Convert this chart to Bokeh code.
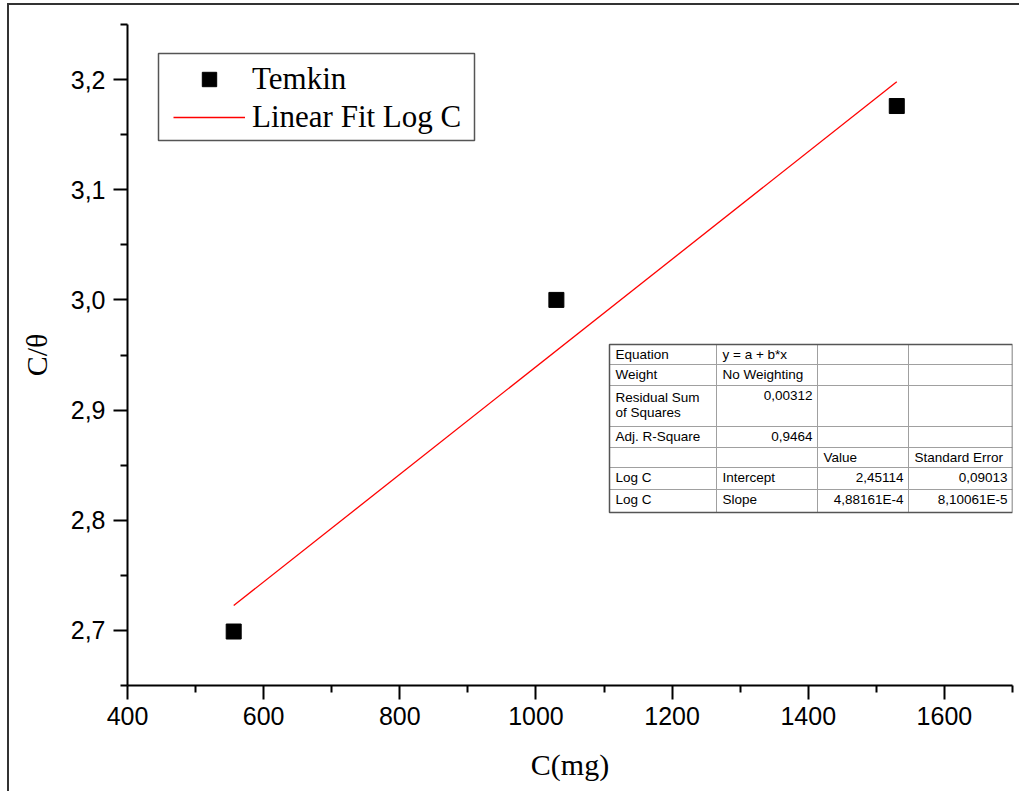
from bokeh.plotting import figure
from bokeh.models import FixedTicker, CustomJSTickFormatter, Legend, LegendItem, ColumnDataSource, InlineStyleSheet
from bokeh.core.properties import value
from bokeh.embed import file_html
from bokeh.resources import INLINE

# ---------------- data ----------------
conc_mg = [556, 1030, 1530]
c_theta = [2.699, 3.000, 3.176]
fit_intercept = 2.45114
fit_slope = 4.88161e-4

x_major = [400, 600, 800, 1000, 1200, 1400, 1600]
x_minor = [500, 700, 900, 1100, 1300, 1500, 1700]
y_major = [2.7, 2.8, 2.9, 3.0, 3.1, 3.2]
y_minor = [2.65, 2.75, 2.85, 2.95, 3.05, 3.15, 3.25]

table_col1 = ["Equation", "Weight", "Residual Sum\nof Squares", "Adj. R-Square", "", "Log C", "Log C"]
table_col2 = ["y = a + b*x", "No Weighting", "0,00312", "0,9464", "", "Intercept", "Slope"]
table_col3 = ["", "", "", "", "Value", "2,45114", "4,88161E-4"]
table_col4 = ["", "", "", "", "Standard Error", "0,09013", "8,10061E-5"]

# ---------------- figure ----------------
XR = (400, 1700)
YR = (2.65, 3.25)
FL, FR, FT, FB = 127, 1012, 24, 685   # frame edges on the page
W, H = 1019, 791
p = figure(width=W, height=H, x_range=XR, y_range=YR,
           output_backend="svg", toolbar_location=None,
           min_border_left=FL, min_border_right=W - FR, min_border_top=FT, min_border_bottom=H - FB)
p.grid.visible = False
p.outline_line_color = None
p.background_fill_color = "white"
p.border_fill_color = "white"

# outer page border (top and left edges only)
p.stylesheets = [InlineStyleSheet(css=(
    ":host { position: relative; }"
    ":host::after { content: ''; position: absolute; left: 7px; top: 3px; width: 2000px; height: 2000px;"
    " border-top: 2px solid #333; border-left: 2px solid #333; pointer-events: none; z-index: 10; }"
))]

def X(px):
    return XR[0] + (px - FL) * (XR[1] - XR[0]) / (FR - FL)
def Y(py):
    return YR[0] + (FB - py) * (YR[1] - YR[0]) / (FB - FT)

fmt = CustomJSTickFormatter(code="return (Math.abs(tick) < 100) ? tick.toFixed(1).replace('.', ',') : tick.toFixed(0);")

for ax, maj, mnr in ((p.xaxis[0], x_major, x_minor), (p.yaxis[0], y_major, y_minor)):
    ax.ticker = FixedTicker(ticks=maj, minor_ticks=mnr)
    ax.formatter = fmt
    ax.axis_line_width = 2
    ax.axis_line_color = "black"
    ax.major_tick_line_width = 2
    ax.minor_tick_line_width = 2
    ax.major_tick_in = 0
    ax.major_tick_out = 14
    ax.minor_tick_in = 0
    ax.minor_tick_out = 7
    ax.major_label_text_font = "Liberation Sans"
    ax.major_label_text_font_size = "25px"
    ax.major_label_text_color = "black"
    ax.axis_label_text_font = "Liberation Serif"
    ax.axis_label_text_font_size = "30px"
    ax.axis_label_text_font_style = "normal"
    ax.axis_label_text_color = "black"

p.xaxis.axis_label = "C(mg)"
p.yaxis.axis_label = "C/θ"
p.xaxis.major_label_standoff = 7
p.yaxis.major_label_standoff = 8
p.xaxis.axis_label_standoff = 20
p.yaxis.axis_label_standoff = 15

# ---------------- legend frame ----------------
p.quad(left=[X(158)], right=[X(474)], top=[Y(53)], bottom=[Y(140)],
       fill_color="white", line_color="#555555", line_width=1.5)

# ---------------- data marks ----------------
sc = p.scatter(conc_mg, c_theta, marker="square", size=15, fill_color="black", line_color="black")
fx = [min(conc_mg), max(conc_mg)]
fy = [fit_intercept + fit_slope * v for v in fx]
ln = p.line(fx, fy, line_color="#ff0000", line_width=1.3)

legend = Legend(items=[LegendItem(label="Temkin", renderers=[sc]),
                       LegendItem(label="Linear Fit Log C", renderers=[ln])],
                location=(173 - FL, FB - 135))
legend.label_text_font = "Liberation Serif"
legend.label_text_font_size = "31px"
legend.label_text_color = "black"
legend.glyph_width = 72
legend.glyph_height = 36
legend.label_height = 36
legend.label_standoff = 7
legend.spacing = 2
legend.padding = 0
legend.margin = 0
legend.border_line_color = None
legend.background_fill_alpha = 0
p.add_layout(legend, "center")

# ---------------- fit table ----------------
col_edges = [609, 716, 817, 908, 1012]
row_edges = [344, 364, 385, 426, 447, 467, 489, 512]

vx0, vy0, vx1, vy1 = [], [], [], []
for cx in col_edges[1:-1]:
    vx0.append(X(cx)); vx1.append(X(cx)); vy0.append(Y(row_edges[0])); vy1.append(Y(row_edges[-1]))
for ry in row_edges[1:-1]:
    vx0.append(X(col_edges[0])); vx1.append(X(col_edges[-1])); vy0.append(Y(ry)); vy1.append(Y(ry))
p.quad(left=[X(col_edges[0])], right=[X(col_edges[-1])], top=[Y(row_edges[0])], bottom=[Y(row_edges[-1])],
       fill_color="white", line_color=None)
p.segment(vx0, vy0, vx1, vy1, line_color="#a0a0a0", line_width=1)
p.quad(left=[X(col_edges[0])], right=[X(col_edges[-1])], top=[Y(row_edges[0])], bottom=[Y(row_edges[-1])],
       fill_color=None, line_color="#555555", line_width=1.5)

tx, ty, tt, ta = [], [], [], []
cols = [table_col1, table_col2, table_col3, table_col4]
for ci, col in enumerate(cols):
    for ri, txt in enumerate(col):
        if not txt:
            continue
        lines = txt.split("\n")
        top = row_edges[ri]
        numeric = txt[0].isdigit()
        for li, t in enumerate(lines):
            cy = top + 10 + li * 15 if ri != 2 or ci != 0 else top + 12 + li * 15
            if numeric:
                px = col_edges[ci + 1] - 5
                align = "right"
            else:
                px = col_edges[ci] + 6
                align = "left"
            tx.append(X(px)); ty.append(Y(cy)); tt.append(t); ta.append(align)

src = ColumnDataSource(dict(x=tx, y=ty, text=tt, align=ta))
p.text("x", "y", text="text", source=src, text_align="align", text_baseline="middle",
       text_font=value("Liberation Sans"), text_font_size="13.5px", text_color="black")

open("out.html", "w").write(file_html(p, INLINE))
